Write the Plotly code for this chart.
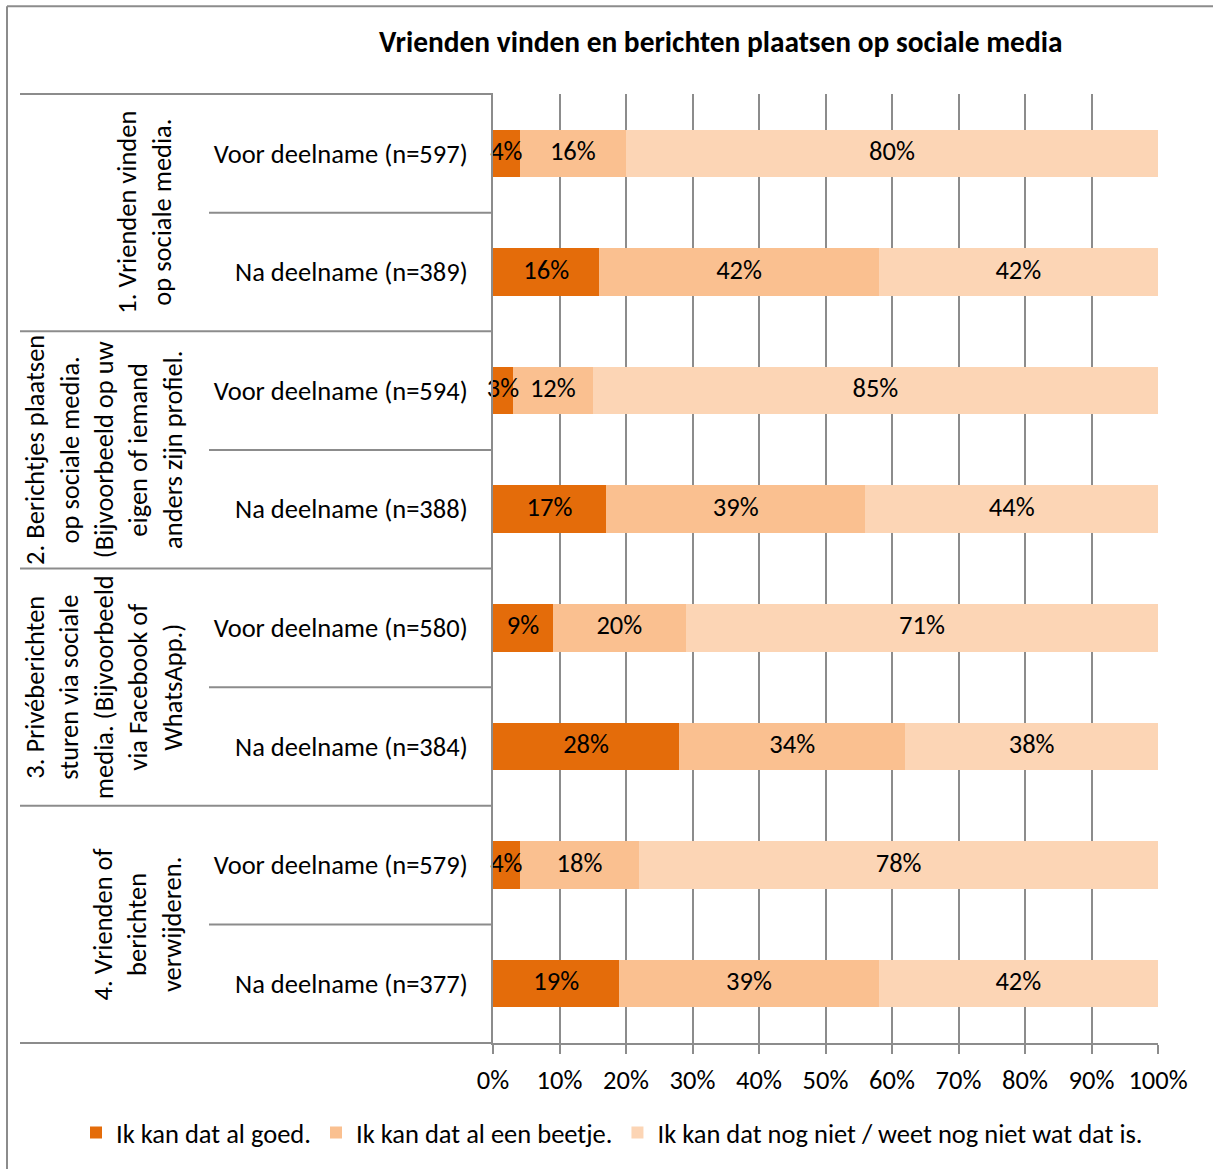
import plotly.graph_objects as go

categories = [
    "Voor deelname (n=597)", "Na deelname (n=389)",
    "Voor deelname (n=594)", "Na deelname (n=388)",
    "Voor deelname (n=580)", "Na deelname (n=384)",
    "Voor deelname (n=579)", "Na deelname (n=377)",
]
groups = [
    "1. Vrienden vinden<br>op sociale media.",
    "2. Berichtjes plaatsen<br>op sociale media.<br>(Bijvoorbeeld op uw<br>eigen of iemand<br>anders zijn profiel.",
    "3. Privéberichten<br>sturen via sociale<br>media. (Bijvoorbeeld<br>via Facebook of<br>WhatsApp.)",
    "4. Vrienden of<br>berichten<br>verwijderen.",
]
series_names = [
    "Ik kan dat al goed.",
    "Ik kan dat al een beetje.",
    "Ik kan dat nog niet / weet nog niet wat dat is.",
]
goed = [4, 16, 3, 17, 9, 28, 4, 19]
beetje = [16, 42, 12, 39, 20, 34, 18, 39]
niet = [80, 42, 85, 44, 71, 38, 78, 42]
values = [goed, beetje, niet]
colors = ["#E46C0A", "#FAC090", "#FCD5B5"]
tick_vals = list(range(0, 101, 10))

FONT = "Carlito, Calibri, Lato, sans-serif"
FS = 26.5
W, H = 1213, 1169
L, R, T, B = 493, 1158, 94, 1045
PW, PH = R - L, B - T


def px(x):
    return (x - L) / PW


def py(y):
    return (B - y) / PH


fig = go.Figure()
for name, vals, col in zip(series_names, values, colors):
    fig.add_trace(go.Bar(
        y=categories, x=vals, name=name, orientation="h",
        marker=dict(color=col, line=dict(width=0)),
        textposition="none", hoverinfo="x+y",
    ))

# data labels centred on each segment
start = [0] * len(categories)
for vals in values:
    mids = [s + v / 2 for s, v in zip(start, vals)]
    fig.add_trace(go.Scatter(
        x=mids, y=categories, mode="text", text=[f"{v}%" for v in vals],
        textposition="middle center", showlegend=False, cliponaxis=False,
        textfont=dict(family=FONT, size=FS, color="#000000"), hoverinfo="skip",
    ))
    start = [s + v for s, v in zip(start, vals)]

line_col = "#8C8C8C"
shapes = []
# outer border (left + top)
shapes.append(dict(type="line", xref="paper", yref="paper", x0=px(7), x1=px(7), y0=py(6), y1=py(1175), line=dict(color=line_col, width=2)))
shapes.append(dict(type="line", xref="paper", yref="paper", x0=px(7), x1=px(1220), y0=py(6), y1=py(6), line=dict(color=line_col, width=2)))
n_cat = len(categories)
row_h = PH / n_cat
for g in range(len(groups) + 1):
    yy = T + g * 2 * row_h
    shapes.append(dict(type="line", xref="paper", yref="paper", x0=px(20), x1=px(L), y0=py(yy), y1=py(yy), line=dict(color=line_col, width=2)))
for g in range(len(groups)):
    yy = T + (2 * g + 1) * row_h
    shapes.append(dict(type="line", xref="paper", yref="paper", x0=px(209), x1=px(L), y0=py(yy), y1=py(yy), line=dict(color=line_col, width=2)))

annotations = []
group_x = [144, 104, 104, 137]
for g, txt in enumerate(groups):
    yc = T + (2 * g + 1) * row_h
    annotations.append(dict(
        xref="paper", yref="paper", x=px(group_x[g]), y=py(yc),
        text=txt, showarrow=False, textangle=-90,
        xanchor="center", yanchor="middle", align="center",
        font=dict(family=FONT, size=FS, color="#000000"),
    ))
annotations.append(dict(
    xref="paper", yref="paper", x=px(720), y=py(42),
    text="<b>Vrienden vinden en berichten plaatsen op sociale media</b>",
    showarrow=False, xanchor="center", yanchor="middle",
    font=dict(family=FONT, size=29.4, color="#000000"),
))

fig.update_layout(
    width=W, height=H,
    margin=dict(l=L, r=W - R, t=T, b=H - B, pad=0),
    paper_bgcolor="white", plot_bgcolor="white",
    barmode="stack", bargap=0.6,
    showlegend=True,
    legend=dict(orientation="h", x=px(76), y=py(1135), xanchor="left", yanchor="middle",
                font=dict(family=FONT, size=FS, color="#000000"), traceorder="normal",
                itemwidth=30, tracegroupgap=0),
    shapes=shapes, annotations=annotations,
    font=dict(family=FONT, size=FS, color="#000000"),
)
fig.update_xaxes(
    range=[0, 100], tickvals=tick_vals, ticktext=[f"{v}%" for v in tick_vals],
    showgrid=True, gridcolor=line_col, gridwidth=2,
    ticks="outside", ticklen=9, tickcolor=line_col, tickwidth=2,
    showline=True, linecolor=line_col, linewidth=2, ticklabelstandoff=3,
    zeroline=False, tickfont=dict(family=FONT, size=FS, color="#000000"),
    fixedrange=True,
)
fig.update_yaxes(
    categoryorder="array", categoryarray=categories, autorange="reversed",
    showgrid=False, ticks="", showline=True, linecolor=line_col, linewidth=2,
    ticklabelstandoff=18, tickfont=dict(family=FONT, size=FS, color="#000000"),
    fixedrange=True,
)
fig.write_html("out.html", config={"displayModeBar": False},
               post_script="document.body.style.margin='0';document.body.style.overflow='hidden';")
